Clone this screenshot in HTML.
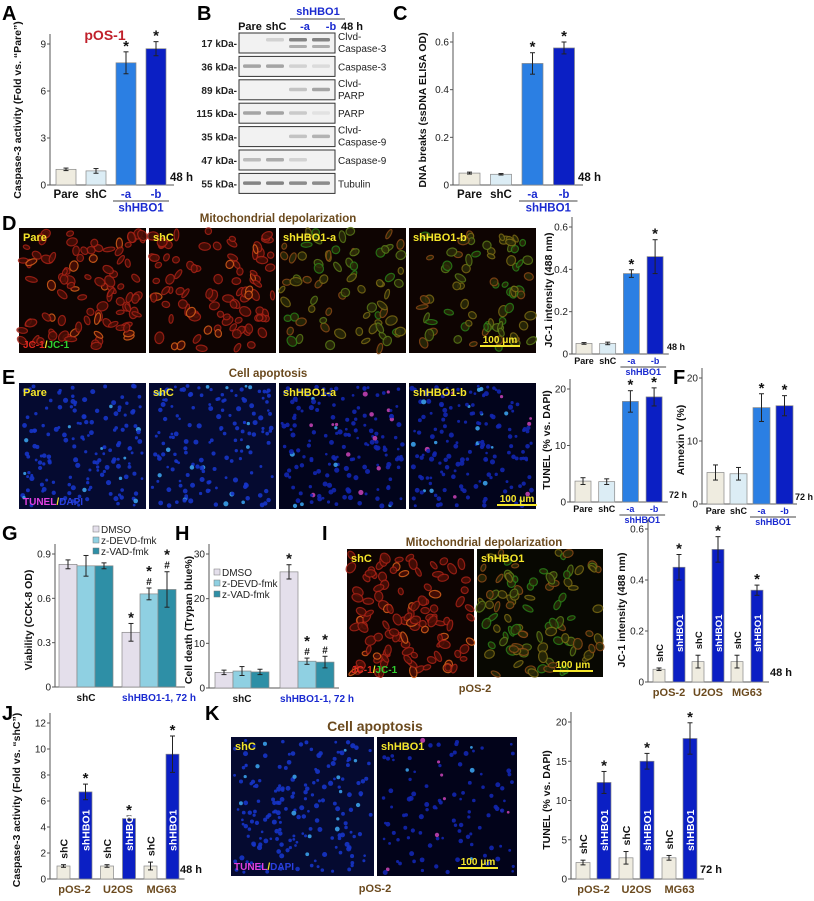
<!DOCTYPE html>
<html><head><meta charset="utf-8"><style>
body{margin:0;background:#fff;}
svg{display:block;font-family:"Liberation Sans",sans-serif;}
.t{font-size:10px;fill:#222;}
.ttl{font-family:"Liberation Sans",sans-serif;font-weight:bold;font-size:10.5px;fill:#111;}
.pl{font-family:"Liberation Sans",sans-serif;font-weight:bold;font-size:20px;fill:#000;}
</style></head><body>
<svg id="fig" width="814" height="901" viewBox="0 0 814 901">
<g id="imgs"></g>
<g id="static">
<text class="pl" x="2" y="20">A</text>
<text class="pl" x="197" y="20">B</text>
<text class="pl" x="393" y="20">C</text>
<text class="pl" x="2" y="230">D</text>
<text class="pl" x="2" y="384">E</text>
<text class="pl" x="673" y="384">F</text>
<text class="pl" x="2" y="540">G</text>
<text class="pl" x="175" y="540">H</text>
<text class="pl" x="322" y="540">I</text>
<text class="pl" x="2" y="720">J</text>
<text class="pl" x="205" y="720">K</text>
<text x="105" y="40" font-size="14" font-weight="bold" fill="#c0202a" text-anchor="middle">pOS-1</text>
<text x="278" y="222" font-size="11.5" font-weight="bold" fill="#6b4a1e" text-anchor="middle">Mitochondrial depolarization</text>
<text x="268" y="377" font-size="11.5" font-weight="bold" fill="#6b4a1e" text-anchor="middle">Cell apoptosis</text>
<text x="484" y="546" font-size="11.5" font-weight="bold" fill="#6b4a1e" text-anchor="middle">Mitochondrial depolarization</text>
<text x="375" y="731" font-size="14" font-weight="bold" fill="#6b4a1e" text-anchor="middle">Cell apoptosis</text>
<text x="475" y="692" font-size="11" font-weight="bold" fill="#6b4a1e" text-anchor="middle">pOS-2</text>
<text x="375" y="892" font-size="11" font-weight="bold" fill="#6b4a1e" text-anchor="middle">pOS-2</text>
</g>
<g id="blot"></g>
<g id="charts"></g>
</svg>
<script>
// ---- data ----
const A_cats=['Pare','shC','-a','-b'];
const A_vals=[1.0,0.9,7.8,8.7];
const A_err=[0.08,0.15,0.7,0.45];
const A_ticks=[0,3,6,9];
const C_vals=[0.05,0.045,0.51,0.575];
const C_err=[0.004,0.003,0.045,0.025];
const C_ticks=[0,0.2,0.4,0.6];
const D_vals=[0.05,0.05,0.38,0.46];
const D_err=[0.004,0.006,0.018,0.08];
const D_ticks=[0,0.2,0.4,0.6];
const E_vals=[3.7,3.6,17.8,18.6];
const E_err=[0.6,0.5,1.9,1.6];
const E_ticks=[0,10,20];
const F_vals=[5.0,4.8,15.3,15.6];
const F_err=[1.2,1.0,2.2,1.6];
const F_ticks=[0,10,20];
const G_groups=['shC','shHBO1-1, 72 h'];
const G_series=['DMSO','z-DEVD-fmk','z-VAD-fmk'];
const G_vals=[[0.83,0.82,0.82],[0.37,0.63,0.66]];
const G_err=[[0.03,0.07,0.02],[0.06,0.04,0.12]];
const G_ticks=[0,0.3,0.6,0.9];
const H_vals=[[3.5,3.8,3.6],[26,6,5.8]];
const H_err=[[0.5,1.0,0.6],[1.6,0.7,1.3]];
const H_ticks=[0,10,20,30];
const L_groups=['pOS-2','U2OS','MG63'];
const I_vals=[[0.05,0.45],[0.08,0.52],[0.08,0.36]];
const I_err=[[0.005,0.05],[0.025,0.05],[0.025,0.02]];
const I_ticks=[0,0.2,0.4,0.6];
const J_vals=[[1.0,6.7],[1.0,4.65],[1.0,9.6]];
const J_err=[[0.1,0.6],[0.1,0.2],[0.3,1.4]];
const J_ticks=[0,2,4,6,8,10,12];
const K_vals=[[2.1,12.3],[2.7,15.0],[2.7,17.9]];
const K_err=[[0.3,1.4],[0.8,1.0],[0.3,2.0]];
const K_ticks=[0,5,10,15,20];

const NS='http://www.w3.org/2000/svg';
function el(tag,attrs,parent,txt){const e=document.createElementNS(NS,tag);for(const k in attrs)e.setAttribute(k,attrs[k]);if(txt!==undefined)e.textContent=txt;parent.appendChild(e);return e;}
const charts=document.getElementById('charts');
const cols4=['#efece0','#dcedf5','#2b7fe3','#0b1fc4'];
const gcols=['#e4dfeb','#8fd0e2','#2e8fa6'];

function axis(g,ax,y0,yTop,max,ticks,xEnd,fmt,title,tx){
  const sy=v=>y0-v/max*(y0-yTop);
  let a=el('line',{x1:ax,y1:y0,x2:ax,y2:yTop-10,stroke:'#555','stroke-width':1},g);
  
  
  let b=el('line',{x1:ax,y1:y0,x2:xEnd,y2:y0,stroke:'#555','stroke-width':1},g);
  
  
  ticks.forEach(t=>{
    el('line',{x1:ax-3,y1:sy(t),x2:ax,y2:sy(t),stroke:'#555'},g);
    let tl=el('text',{x:ax-4,y:sy(t)+3.5,'text-anchor':'end',class:'t'},g,fmt?fmt(t):t);
    
    
  });
  let yt=el('text',{x:0,y:0,transform:`translate(${tx[0]},${tx[1]}) rotate(-90)`,'text-anchor':'middle',class:'ttl'},g,title);
  
  
  return sy;
}
function bar(g,x,w,y0,sy,v,e,col,star,name){
  let r=el('rect',{x:x,y:sy(v),width:w,height:y0-sy(v),fill:col,stroke:'#888','stroke-width':0.7},g);
  
  
  const cx=x+w/2;
  el('line',{x1:cx,y1:sy(v+e),x2:cx,y2:sy(v-e),stroke:'#222','stroke-width':1},g);
  el('line',{x1:cx-2.5,y1:sy(v+e),x2:cx+2.5,y2:sy(v+e),stroke:'#222'},g);
  el('line',{x1:cx-2.5,y1:sy(v-e),x2:cx+2.5,y2:sy(v-e),stroke:'#222'},g);
  if(star){let s=el('text',{x:cx,y:sy(v+e)+(star.length>1?-12:-1),'text-anchor':'middle','font-size':15,'font-weight':'bold',fill:'#111'},g,'*');
    
    
    if(star.length>1){let h=el('text',{x:cx,y:sy(v+e)-3,'text-anchor':'middle','font-size':10,'font-weight':'bold',fill:'#111'},g,'#');
      
      }
  }
}
function four(id,c){
  const g=el('g',{},charts);
  
  
  const sy=axis(g,c.ax,c.y0,c.yTop,c.max,c.ticks,c.x0+c.step*4-2,c.fmt,c.title,c.tx);
  c.vals.forEach((v,i)=>bar(g,c.x0+i*c.step,c.w,c.y0,sy,v,c.err[i],cols4[i],i>=2?'*':'',id+'-bar-'+A_cats[i]));
  const ly=c.y0+c.lab;
  A_cats.forEach((k,i)=>{let t=el('text',{x:c.x0+i*c.step+c.w/2,y:ly,'text-anchor':'middle','font-size':c.fs,'font-weight':'bold',fill:i>=2?'#1a2ad0':'#111'},g,k);
    
    });
  const xa=c.x0+2*c.step, xb=c.x0+3*c.step+c.w;
  el('line',{x1:xa-3,y1:ly+3,x2:xb+3,y2:ly+3,stroke:'#444'},g);
  let s=el('text',{x:(xa+xb)/2,y:ly+c.fs+2,'text-anchor':'middle','font-size':c.fs,'font-weight':'bold',fill:'#1a2ad0'},g,'shHBO1');
  
  
  let h=el('text',{x:c.hx,y:c.y0-4,'font-size':c.fs,'font-weight':'bold',fill:'#111'},g,c.time);
  
  
}
four('a',{ax:50,y0:185,yTop:44,max:9,ticks:A_ticks,x0:56,step:30,w:20,vals:A_vals,err:A_err,title:'Caspase-3 activity (Fold vs. \u201cPare\u201d)',tx:[21,110],lab:13,fs:11.5,hx:170,time:'48 h'});
four('c',{ax:453,y0:185,yTop:42,max:0.6,ticks:C_ticks,x0:459,step:31.5,w:21,vals:C_vals,err:C_err,title:'DNA breaks (ssDNA ELISA OD)',tx:[426,110],lab:13,fs:11.5,hx:578,time:'48 h',fmt:t=>t});
four('d',{ax:572,y0:354,yTop:227,max:0.6,ticks:D_ticks,x0:576,step:23.7,w:16,vals:D_vals,err:D_err,title:'JC-1 intensity (488 nm)',tx:[552,290],lab:10,fs:9,hx:667,time:'48 h'});
four('e',{ax:570,y0:502,yTop:389,max:20,ticks:E_ticks,x0:575,step:23.7,w:16,vals:E_vals,err:E_err,title:'TUNEL (% vs. DAPI)',tx:[550,440],lab:10,fs:9,hx:669,time:'72 h'});
four('f',{ax:702,y0:504,yTop:378,max:20,ticks:F_ticks,x0:707,step:23,w:17,vals:F_vals,err:F_err,title:'Annexin V (%)',tx:[684,440],lab:10,fs:9,hx:795,time:'72 h'});

function grouped3(id,c){
  const g=el('g',{},charts);
  
  
  const sy=axis(g,c.ax,c.y0,c.yTop,c.max,c.ticks,c.ax+130,c.fmt,c.title,c.tx);
  c.vals.forEach((grp,gi)=>grp.forEach((v,si)=>{
    const st=gi==1?(si>0?'*#':'*'):'';
    bar(g,c.x0+gi*c.gstep+si*c.w,c.w,c.y0,sy,v,c.err[gi][si],gcols[si],st,id+'-bar-'+G_series[si]);
  }));
  G_groups.forEach((k,gi)=>{let t=el('text',{x:c.x0+gi*c.gstep+c.w*1.5+(gi?10:0),y:c.y0+14,'text-anchor':'middle','font-size':10,'font-weight':'bold',fill:gi?'#1a2ad0':'#111'},g,k);
    
    });
  G_series.forEach((s,si)=>{
    let r=el('rect',{x:c.lx,y:c.ly+si*11-7,width:6,height:6,fill:gcols[si],stroke:'#777','stroke-width':0.5},g);
    
    
    let t=el('text',{x:c.lx+8,y:c.ly+si*11,'font-size':10,fill:'#222'},g,s);
    
    
  });
}
grouped3('g',{ax:55,y0:687,yTop:554,max:0.9,ticks:G_ticks,x0:59,gstep:63,w:18,vals:G_vals,err:G_err,title:'Viability (CCK-8 OD)',tx:[32,620],lx:93,ly:533,fmt:t=>t});
grouped3('h',{ax:209,y0:688,yTop:554,max:30,ticks:H_ticks,x0:215,gstep:65,w:18,vals:H_vals,err:H_err,title:'Cell death (Trypan blue%)',tx:[192,620],lx:214,ly:576});

function paired(id,c){
  const g=el('g',{},charts);
  
  
  const sy=axis(g,c.ax,c.y0,c.yTop,c.max,c.ticks,c.ax+c.gstep*3+4,c.fmt,c.title,c.tx);
  c.vals.forEach((grp,gi)=>{
    const gx=c.x0+gi*c.gstep;
    bar(g,gx,c.w,c.y0,sy,grp[0],c.err[gi][0],'#efece0','',id+'-bar-shC-'+L_groups[gi]);
    bar(g,gx+c.gap,c.w,c.y0,sy,grp[1],c.err[gi][1],'#0b1fc4','*',id+'-bar-shHBO1-'+L_groups[gi]);
    let t1=el('text',{x:0,y:0,transform:`translate(${gx+c.w/2+4},${sy(grp[0]+c.err[gi][0])-6}) rotate(-90)`,'font-size':c.fs,'font-weight':'bold',fill:'#111'},g,'shC');
    
    
    let t2=el('text',{x:0,y:0,transform:`translate(${gx+c.gap+c.w/2+4},${c.y0-c.bot}) rotate(-90)`,'font-size':c.fs,'font-weight':'bold',fill:'#fff'},g,'shHBO1');
    
    
    let t3=el('text',{x:gx+c.gap/2+c.w/2,y:c.y0+14,'text-anchor':'middle','font-size':11,'font-weight':'bold',fill:'#6b4a1e'},g,L_groups[gi]);
    
    
  });
  let h=el('text',{x:c.hx,y:c.y0-6,'font-size':11,'font-weight':'bold',fill:'#111'},g,c.time);
  
  
}
paired('i',{ax:648,y0:682,yTop:529,max:0.6,ticks:I_ticks,x0:653,gstep:39,gap:20,w:12,vals:I_vals,err:I_err,title:'JC-1 intensity (488 nm)',tx:[625,610],fs:9.5,bot:30,hx:770,time:'48 h',fmt:t=>t});
paired('j',{ax:50,y0:879,yTop:723,max:12,ticks:J_ticks,x0:57,gstep:43.5,gap:22,w:13,vals:J_vals,err:J_err,title:'Caspase-3 activity (Fold vs. \u201cshC\u201d)',tx:[20,800],fs:10.5,bot:28,hx:180,time:'48 h'});
paired('k',{ax:571,y0:879,yTop:722,max:20,ticks:K_ticks,x0:576,gstep:43,gap:21,w:14,vals:K_vals,err:K_err,title:'TUNEL (% vs. DAPI)',tx:[550,800],fs:10.5,bot:28,hx:700,time:'72 h'});

// ---- western blot ----
const blot=document.getElementById('blot');
const rows=[['17 kDa-','Clvd-','Caspase-3',[0,.2,.7,.7]],['36 kDa-','Caspase-3','',[.5,.5,.2,.15]],['89 kDa-','Clvd-','PARP',[0,0,.3,.5]],['115 kDa-','PARP','',[.5,.5,.25,.1]],['35 kDa-','Clvd-','Caspase-9',[0,0,.3,.4]],['47 kDa-','Caspase-9','',[.35,.45,.2,0]],['55 kDa-','Tubulin','',[.7,.7,.65,.65]]];
rows.forEach((r,i)=>{
  const y=33+i*23.4;
  let b=el('rect',{x:239,y:y,width:96,height:20,fill:'#f2f2f2',stroke:'#333','stroke-width':1},blot);
  
  
  r[3].forEach((v,j)=>{if(v>0)el('rect',{x:243+j*23,y:y+(i==0?5:8),width:18,height:3.5,fill:'#555',opacity:v,rx:1.5},blot);
    if(i==0&&v>.3)el('rect',{x:243+j*23,y:y+12,width:18,height:3,fill:'#666',opacity:v*.7,rx:1.5},blot);});
  el('text',{x:237,y:y+14,'text-anchor':'end','font-size':10,'font-weight':'bold',fill:'#222'},blot,r[0]);
  if(r[2]){el('text',{x:338,y:y+7,'font-size':10,fill:'#222'},blot,r[1]);el('text',{x:338,y:y+19,'font-size':10,fill:'#222'},blot,r[2]);}
  else el('text',{x:338,y:y+14,'font-size':10,fill:'#222'},blot,r[1]);
});
[['Pare',250,'#111'],['shC',276,'#111'],['-a',305,'#1a2ad0'],['-b',331,'#1a2ad0'],['48 h',352,'#111']].forEach(h=>el('text',{x:h[1],y:30,'text-anchor':'middle','font-size':11,'font-weight':'bold',fill:h[2]},blot,h[0]));
el('text',{x:318,y:15,'text-anchor':'middle','font-size':11,'font-weight':'bold',fill:'#1a2ad0'},blot,'shHBO1');
el('line',{x1:290,y1:19,x2:345,y2:19,stroke:'#444'},blot);

// ---- micrographs (decorative) ----
const imgs=document.getElementById('imgs');
let seed=7;function rnd(){seed=(seed*16807)%2147483647;return seed/2147483647;}
function panel(x,y,w,h,bg,kind,label,n){
  let r=el('rect',{x:x,y:y,width:w,height:h,fill:bg},imgs);
  
  
  for(let i=0;i<n;i++){
    const cx=x+3+rnd()*(w-6), cy=y+3+rnd()*(h-6);
    let col;
    if(kind=='red')col=rnd()<.88?'#a82216':'#d8601a';
    else if(kind=='mix')col=['#7a6a14','#5a7a18','#8a4a16','#2a8018'][Math.floor(rnd()*4)];
    else if(kind=='blue')col=rnd()<.9?'#1634c8':'#3aa0ea';
    else col=rnd()<.88?'#1226b0':(rnd()<.5?'#c040b0':'#3aa0ea');
    if(kind=='red'||kind=='mix'){const a=rnd()*180;el('ellipse',{cx:cx,cy:cy,rx:3+rnd()*3,ry:2+rnd()*2.5,transform:`rotate(${a} ${cx} ${cy})`,fill:kind=='red'?'#4a0e06':'#2a2a08',stroke:col,'stroke-width':1.2,opacity:.85},imgs);}
    else el('circle',{cx:cx,cy:cy,r:1.3+rnd()*1.3,fill:col,opacity:.9},imgs);
  }
  let t=el('text',{x:x+4,y:y+13,'font-size':11,'font-weight':'bold',fill:'#f5e62a'},imgs,label);
  
  
}
const dl=['Pare','shC','shHBO1-a','shHBO1-b'];
for(let i=0;i<4;i++){panel(19+i*130,228,127,125,'#0e0402',i<2?'red':'mix',dl[i],i<2?95:75);}
for(let i=0;i<4;i++){panel(19+i*130,383,127,126,i<2?'#050a30':'#02041c',i<2?'blue':'bluep',dl[i],i<2?160:170);}
panel(347,549,127,128,'#0e0402','red','shC',115);
panel(477,549,126,128,'#080802','mix','shHBO1',100);
panel(231,737,143,139,'#050a30','blue','shC',190);
panel(377,737,140,139,'#02031a','bluep','shHBO1',110);
function sbar(x,y){el('line',{x1:x,y1:y,x2:x+40,y2:y,stroke:'#f5e62a','stroke-width':2},imgs);el('text',{x:x+20,y:y-3,'text-anchor':'middle','font-size':10,'font-weight':'bold',fill:'#f5e62a'},imgs,'100 μm');}
sbar(480,346);sbar(497,505);sbar(553,671);sbar(458,868);
function stain(x,y,a,ac,b,bc){const t=el('text',{x:x,y:y,'font-size':10,'font-weight':'bold'},imgs);el('tspan',{fill:ac},t,a);el('tspan',{fill:'#f5e62a'},t,'/');el('tspan',{fill:bc},t,b);}
stain(23,348,'JC-1','#e02a20','JC-1','#30d030');
stain(23,505,'TUNEL','#e040e0','DAPI','#2a40e0');
stain(351,673,'JC-1','#e02a20','JC-1','#30d030');
stain(234,870,'TUNEL','#e040e0','DAPI','#2a40e0');
</script>
</body></html>
